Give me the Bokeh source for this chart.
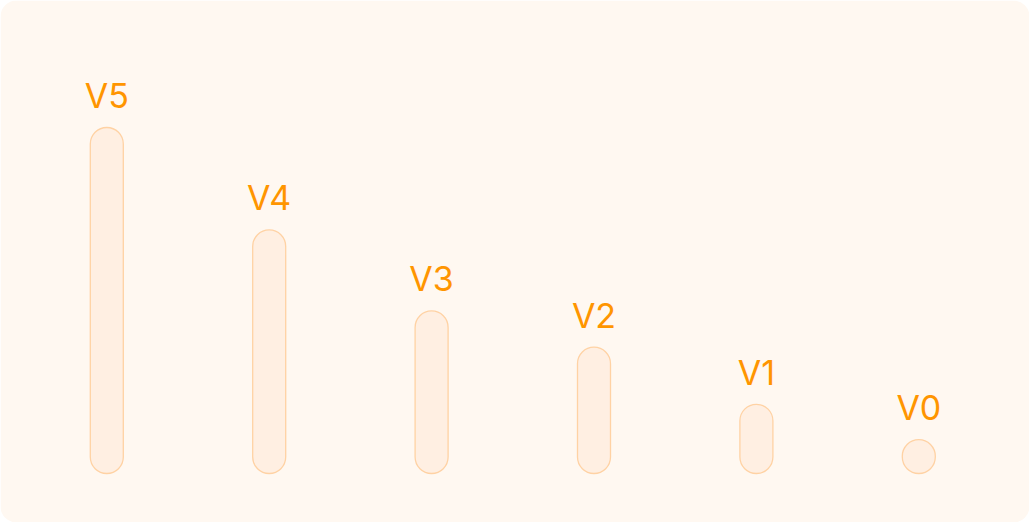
from bokeh.plotting import figure
from bokeh.models import Range1d, ColumnDataSource, BoxAnnotation
from bokeh.core.properties import value
from bokeh.embed import file_html
from bokeh.resources import INLINE

categories = ["V5", "V4", "V3", "V2", "V1", "V0"]
values = [100, 70.4, 47, 36.5, 20, 9.8]

W, H = 1029, 522
px_per_cat = 162.4
x0 = -106.3 / px_per_cat
px_per_unit = 3.46
y0 = -49 / px_per_unit

xs = list(range(len(categories)))
src = ColumnDataSource(dict(x=xs, top=values, label=categories))

p = figure(width=W, height=H, output_backend="svg", toolbar_location=None,
           x_range=Range1d(x0, x0 + W / px_per_cat),
           y_range=Range1d(y0, y0 + H / px_per_unit),
           x_axis_location=None, y_axis_location=None, min_border=0)
p.background_fill_color = "#FFFFFF"
p.border_fill_color = "#FFFFFF"
p.outline_line_color = None
p.grid.visible = False

bg = BoxAnnotation(fill_color="#FFF8F1", fill_alpha=1, line_color=None,
                   border_radius=16, level="underlay")
p.add_layout(bg)

p.vbar(x="x", top="top", bottom=0, width=33 / px_per_cat, source=src,
       fill_color="#FFEFE2", line_color="#FFD2A4", line_width=1.3,
       border_radius=17)

p.text(x="x", y="top", text="label", source=src, text_align="center",
       text_baseline="alphabetic", y_offset=-32, text_color="#FF9500",
       text_font=value("Inter"), text_font_size="34px")

open("out.html", "w").write(file_html(p, INLINE))
